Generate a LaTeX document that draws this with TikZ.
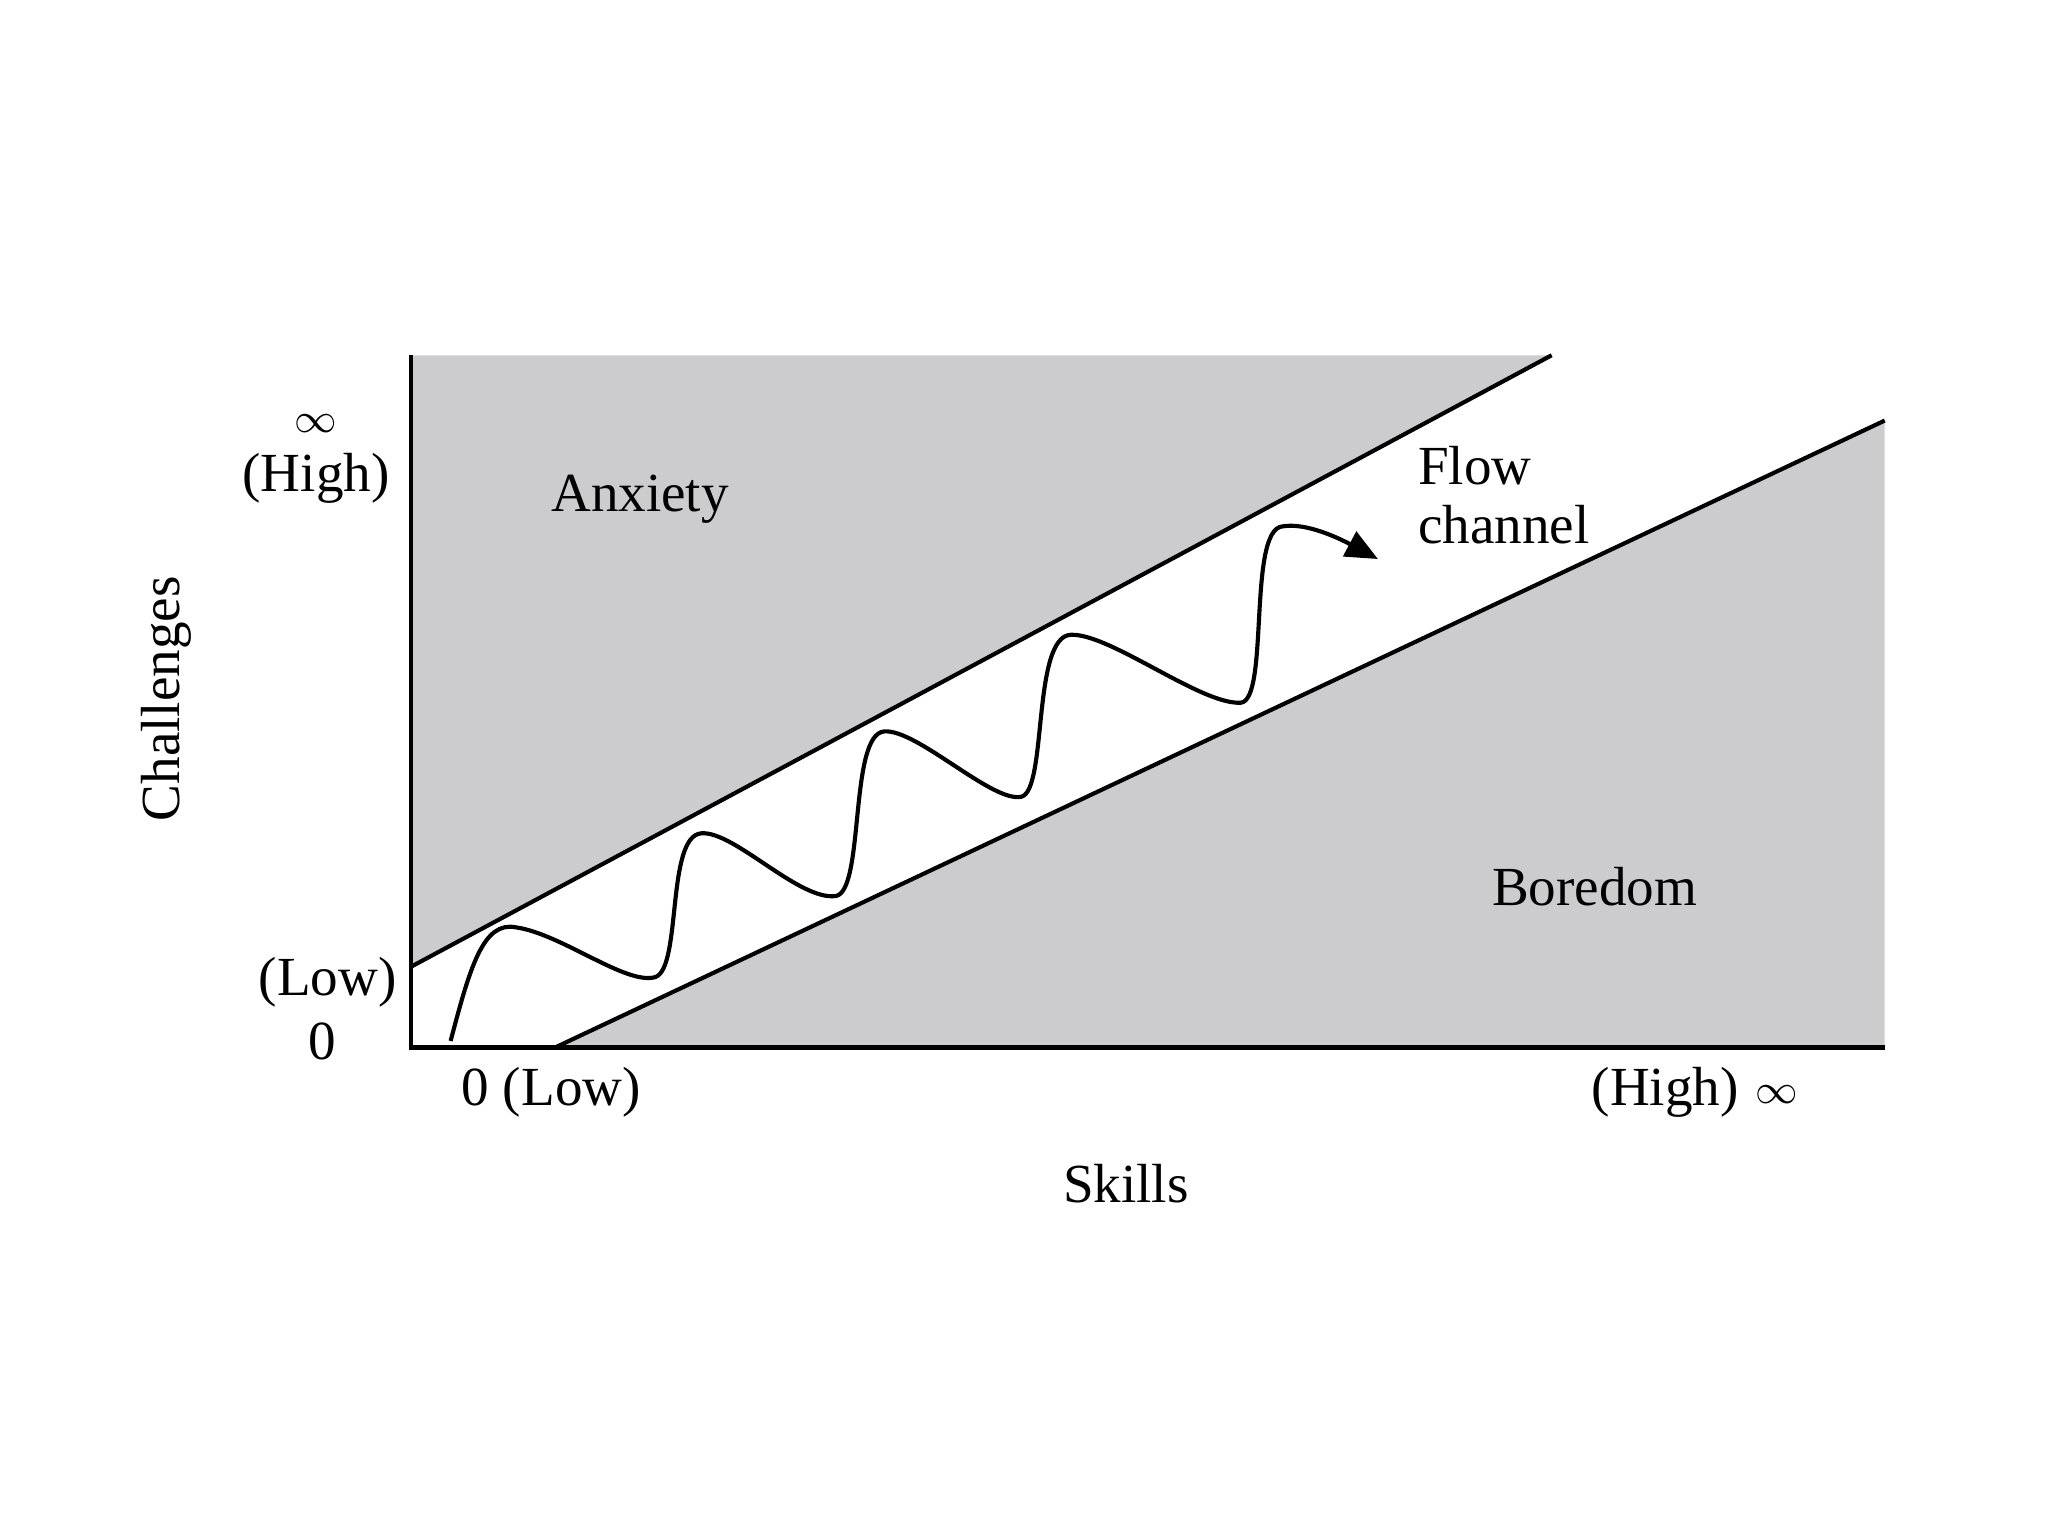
\documentclass[tikz,border=0pt]{standalone}
\usepackage{fontspec}
\setmainfont{Liberation Serif}
\usetikzlibrary{arrows.meta}
\definecolor{zone}{RGB}{204,204,206}
\begin{document}
\begin{tikzpicture}[x=0.01cm,y=-0.01cm,
  lab/.style={font=\fontsize{12}{14}\selectfont, inner sep=0pt},
  inf/.style={font=\fontsize{9}{10}\selectfont, inner sep=0pt},
  edge/.style={line width=0.9pt, black}]
\useasboundingbox (0,0) rectangle (1568,1176);
\fill[white] (0,0) rectangle (1568,1176);
\fill[zone] (315,272) -- (1188,272) -- (315,740) -- cycle;
\fill[zone] (425,802) -- (1443,322) -- (1443,802) -- cycle;
\coordinate (o) at (315,802);
\coordinate (ytop) at (315,272);
\coordinate (xend) at (1443,802);
\coordinate (u1) at (315,740);
\coordinate (u2) at (1188,272);
\coordinate (l1) at (425,802);
\coordinate (l2) at (1443,322);
\draw[edge] (ytop) -- (o) -- (xend);
\draw[edge] (u1) -- (u2);
\draw[edge] (l1) -- (l2);
\coordinate (ws) at (345,797);
\coordinate (we) at (1055,428);
\draw[line width=0.9pt, -{Triangle[length=7pt,width=6pt]}] (ws)
 .. controls (360,740) and (370,705) .. (395,710)
 .. controls (430,715) and (480,755) .. (502,748)
 .. controls (522,740) and (510,640) .. (537,638)
 .. controls (562,636) and (612,690) .. (640,686)
 .. controls (662,682) and (650,562) .. (677,560)
 .. controls (702,558) and (760,615) .. (782,610)
 .. controls (802,605) and (790,487) .. (820,486)
 .. controls (850,485) and (920,540) .. (950,538)
 .. controls (972,536) and (955,405) .. (982,403)
 .. controls (1000,400) and (1025,412) .. (we);
\node[inf] (inf1) at (242,324) {$\infty$};
\node[lab] (hi1) at (242,366) {(High)};
\node[lab] (lo1) at (251,752) {(Low)};
\node[lab] (z1) at (247,797) {0};
\node[lab] (z2) at (422,836) {0 (Low)};
\node[lab] (hi2) at (1275,836) {(High)};
\node[inf] (inf2) at (1360,838) {$\infty$};
\node[lab] (sk) at (862,906) {Skills};
\node[lab, rotate=90] (ch) at (127,535) {Challenges};
\node[lab] (anx) at (490,382) {Anxiety};
\node[lab, anchor=west, align=left] (flow) at (1085,379) {Flow\\[-1pt]channel};
\node[lab] (bor) at (1221,679) {Boredom};
\end{tikzpicture}
\end{document}
